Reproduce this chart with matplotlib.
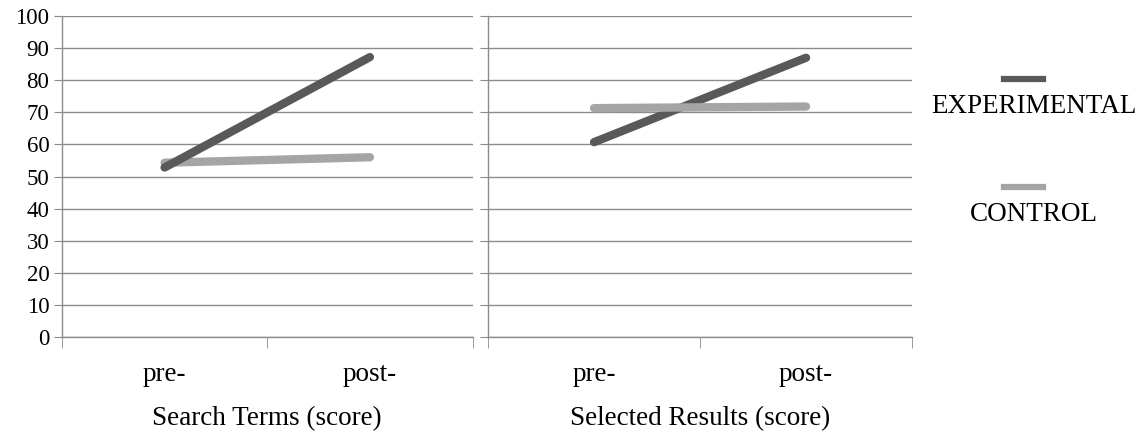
import matplotlib.pyplot as plt
from matplotlib.lines import Line2D
from matplotlib.ticker import FixedLocator

# data
phases = ['pre-', 'post-']
panels = ['Search Terms (score)', 'Selected Results (score)']
experimental = [[52.8, 87.2], [60.7, 87.0]]
control = [[54.3, 56.0], [71.3, 71.8]]
series_names = ['EXPERIMENTAL', 'CONTROL']

dark = '#595959'
light = '#a5a5a5'
grid_c = '#8c8c8c'

plt.rcParams['font.family'] = ['Liberation Serif', 'DejaVu Serif']

fig = plt.figure(figsize=(11.47, 4.34), dpi=100)
boxes = [[0.054, 0.2235, 0.358, 0.7396], [0.4255, 0.2235, 0.3697, 0.7396]]

for i, box in enumerate(boxes):
    ax = fig.add_axes(box)
    x = range(len(phases))
    ax.plot(x, control[i], color=light, lw=6, solid_capstyle='round', zorder=3)
    ax.plot(x, experimental[i], color=dark, lw=6, solid_capstyle='round', zorder=3)
    if i == 1:
        # experimental line goes under control in the right panel
        ax.lines[1].set_zorder(2)
    ax.set_xlim(-0.5, 1.5)
    ax.set_ylim(0, 100)
    ax.set_yticks(range(0, 101, 10))
    ax.yaxis.grid(True, color=grid_c, lw=1)
    ax.set_axisbelow(True)
    for s in ['top', 'right']:
        ax.spines[s].set_visible(False)
    for s in ['left', 'bottom']:
        ax.spines[s].set_color(grid_c)
        ax.spines[s].set_linewidth(1)
    ax.tick_params(axis='y', direction='out', length=6, color=grid_c, labelsize=16.5,
                   labelleft=(i == 0), pad=3)
    ax.set_xticks(list(x))
    ax.set_xticklabels(phases, fontsize=19.5)
    ax.tick_params(axis='x', which='major', length=0, pad=18)
    ax.xaxis.set_minor_locator(FixedLocator([-0.5, 0.5, 1.5]))
    ax.tick_params(axis='x', which='minor', direction='out', length=8, color=grid_c)
    ax.set_xlabel(panels[i], fontsize=19.5, labelpad=14)

# legend: short line above each label
legend_items = [(series_names[0], dark, 0.818, 0.755), (series_names[1], light, 0.569, 0.505)]
for name, col, ly, ty in legend_items:
    fig.add_artist(Line2D([0.875, 0.909], [ly, ly], color=col, lw=4.5,
                          transform=fig.transFigure))
    fig.text(0.9015, ty, name, fontsize=19.5, ha='center', va='center')

fig.savefig('out.png', dpi=100)
